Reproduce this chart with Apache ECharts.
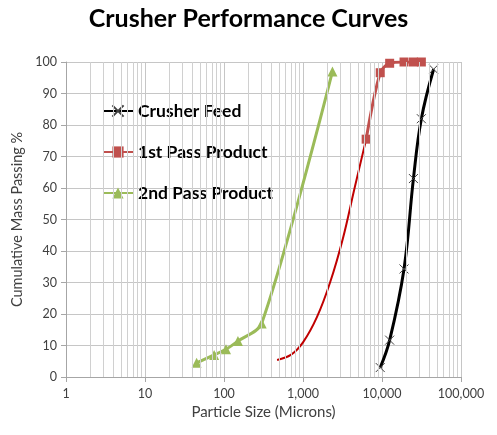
<!DOCTYPE html>
<html><head><meta charset="utf-8">
<script src="https://cdn.jsdelivr.net/npm/echarts@6/dist/echarts.min.js"></script>
<style>html,body{margin:0;padding:0;background:#fff}#c{width:497px;height:435px}</style>
</head><body><div id="c"></div>
<script>
const titleText = 'Crusher Performance Curves';
const xAxisName = 'Particle Size (Microns)';
const yAxisName = 'Cumulative Mass Passing %';
const seriesNames = ['Crusher Feed', '1st Pass Product', '2nd Pass Product'];
const crusherFeed = [[9500, 3], [12500, 11.7], [19000, 34.3], [25000, 63], [31500, 82], [45000, 97.7]];
const firstPass = [[6300, 75.5], [9500, 96.6], [12500, 99.6], [19000, 100], [25000, 100], [31500, 100]];
const firstPassCurve = [[470, 5.4], [700, 7], [1000, 11], [1500, 19], [2200, 30], [3200, 44], [4500, 60], [6300, 75.5]];
const secondPass = [[45, 4.5], [75, 7], [106, 8.8], [150, 11.4], [300, 17], [2360, 97]];
const minorGridValues = [];
[1, 10, 100, 1000, 10000].forEach(d => { for (let k = 2; k <= 9; k++) minorGridValues.push(d * k); });

const font = 'Lato, "Open Sans", sans-serif';
const chart = echarts.init(document.getElementById('c'), null, {renderer: 'canvas'});
chart.setOption({
  animation: false,
  title: {text: titleText, left: 'center', top: 1,
    textStyle: {fontFamily: font, fontWeight: 'bold', fontSize: 25, color: '#000'}},
  grid: {left: 66, right: 36, top: 62, bottom: 58},
  legend: {
    data: seriesNames, orient: 'vertical', left: 97, top: 97, itemGap: 23,
    itemWidth: 30, itemHeight: 14,
    textStyle: {fontFamily: font, fontWeight: 'bold', fontSize: 17.5, color: '#000'}
  },
  xAxis: {
    type: 'log', logBase: 10, min: 1, max: 100000,
    name: xAxisName, nameLocation: 'middle', nameGap: 27,
    nameTextStyle: {fontFamily: font, fontSize: 15, color: '#404040'},
    axisLine: {lineStyle: {color: '#a6a6a6'}},
    axisTick: {show: true, length: 5, lineStyle: {color: '#a6a6a6'}},
    axisLabel: {fontFamily: font, fontSize: 12.5, color: '#404040', margin: 10,
      formatter: v => String(Math.round(v)).replace(/\B(?=(\d{3})+(?!\d))/g, ',')},
    splitLine: {show: true, lineStyle: {color: '#c6c6c6'}}
  },
  yAxis: {
    type: 'value', min: 0, max: 100, interval: 10,
    name: yAxisName, nameLocation: 'middle', nameGap: 41,
    nameTextStyle: {fontFamily: font, fontSize: 14.5, color: '#404040'},
    axisLine: {show: true, lineStyle: {color: '#a6a6a6'}},
    axisTick: {show: true, length: 5, lineStyle: {color: '#a6a6a6'}},
    axisLabel: {fontFamily: font, fontSize: 12.5, color: '#404040', margin: 9},
    splitLine: {show: true, lineStyle: {color: '#c6c6c6'}}
  },
  series: [
    {
      name: 'grid-minor', type: 'line', data: [], silent: true,
      markLine: {silent: true, symbol: 'none', label: {show: false},
        lineStyle: {color: '#d0d0d0', type: 'solid', width: 1},
        data: minorGridValues.map(v => ({xAxis: v}))}
    },
    {
      name: '1st Pass Curve', type: 'line', data: firstPassCurve, smooth: 0.35,
      showSymbol: false, symbol: 'none',
      lineStyle: {color: '#c00000', width: 2}, itemStyle: {color: '#c00000'}, z: 3
    },
    {
      name: seriesNames[0], type: 'line', data: crusherFeed, smooth: 0.4,
      symbol: 'path://M0,0L10,10M10,0L0,10', symbolSize: 9,
      lineStyle: {color: '#000', width: 3},
      itemStyle: {color: '#000', borderColor: '#404040', borderWidth: 1}, z: 4
    },
    {
      name: seriesNames[1], type: 'line', data: firstPass, smooth: 0.3,
      symbol: 'rect', symbolSize: 9,
      lineStyle: {color: '#c0504d', width: 3}, itemStyle: {color: '#c0504d'}, z: 4
    },
    {
      name: seriesNames[2], type: 'line', data: secondPass, smooth: 0.3,
      symbol: 'triangle', symbolSize: 10,
      lineStyle: {color: '#9bbb59', width: 3}, itemStyle: {color: '#9bbb59'}, z: 4
    }
  ]
});
</script></body></html>
